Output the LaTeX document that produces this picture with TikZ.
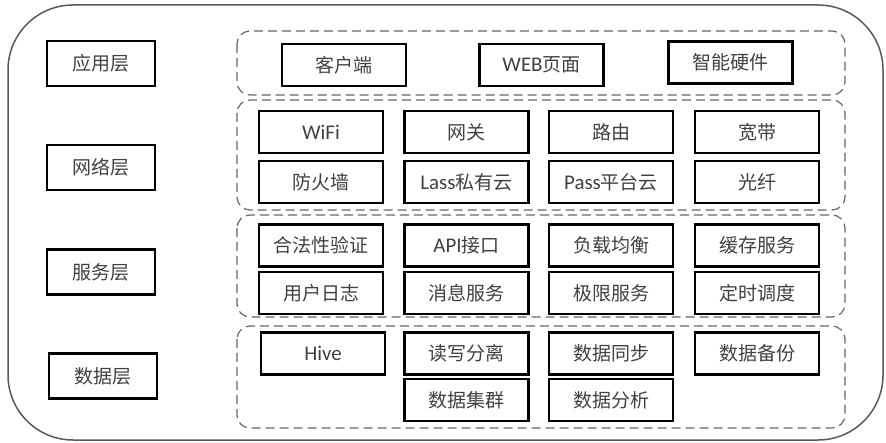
\documentclass[tikz,border=0pt]{standalone}
\usepackage{fontspec}
\setmainfont{Noto Sans CJK SC}
\newfontfamily\lat[Scale=1.1]{Carlito}
\usetikzlibrary{positioning}
\tikzset{
  cell/.style={draw=black, line width=2.6pt, minimum width=124pt, minimum height=42pt,
    inner sep=0pt, font=\fontsize{19}{19}\selectfont, text=black!75},
  layer/.style={cell, minimum width=108pt, minimum height=45pt},
  group/.style={draw=black!60, line width=1.2pt, dash pattern=on 9pt off 5pt, rounded corners=13pt}
}
\begin{document}
\begin{tikzpicture}[x=1pt,y=-1pt]
    \useasboundingbox (0,0) rectangle (886,443);
    % outer frame
    \draw[black!65, line width=1.5pt, rounded corners=65pt] (8,5) rectangle (883,440);
    % layer names
    \node[layer] (app) at (101,63.5) {应用层};
    \node[layer] (net) at (101,167.5) {网络层};
    \node[layer] (svc) at (101,272) {服务层};
    \node[layer] (dat) at (103,376) {数据层};
    % dashed groups
    \draw[group] (237,31) rectangle (845,95);
    \draw[group] (237,100) rectangle (845,210);
    \draw[group] (237,215) rectangle (845,317);
    \draw[group] (237,326) rectangle (845,428);
    % application layer
    \node[cell] (client) at (344,65) {客户端};
    \node[cell] (web) at (541.5,65) {{\lat WEB}页面};
    \node[cell] (smart) at (730.5,62.5) {智能硬件};
    % network layer
    \node[cell] (wifi) at (321,132) {\lat WiFi};
    \node[cell] (gate) at (466.5,132) {网关};
    \node[cell] (route) at (611,132) {路由};
    \node[cell] (band) at (757,132) {宽带};
    \node[cell] (fire) at (321,182) {防火墙};
    \node[cell] (lass) at (466.5,182) {{\lat Lass}私有云};
    \node[cell] (pass) at (611,182) {{\lat Pass}平台云};
    \node[cell] (fiber) at (757,182) {光纤};
    % service layer
    \node[cell] (valid) at (321,245.5) {合法性验证};
    \node[cell] (api) at (466.5,245.5) {{\lat API}接口};
    \node[cell] (bal) at (611,245.5) {负载均衡};
    \node[cell] (cache) at (757,245.5) {缓存服务};
    \node[cell] (ulog) at (321,293) {用户日志};
    \node[cell] (msg) at (466.5,293) {消息服务};
    \node[cell] (lim) at (611,293) {极限服务};
    \node[cell] (sched) at (757,293) {定时调度};
    % data layer
    \node[cell] (hive) at (323,353.5) {\lat Hive};
    \node[cell] (rw) at (466.5,353.5) {读写分离};
    \node[cell] (sync) at (611,353.5) {数据同步};
    \node[cell] (bak) at (757,353.5) {数据备份};
    \node[cell] (clus) at (466.5,400) {数据集群};
    \node[cell] (ana) at (611,400) {数据分析};
\end{tikzpicture}
\end{document}
